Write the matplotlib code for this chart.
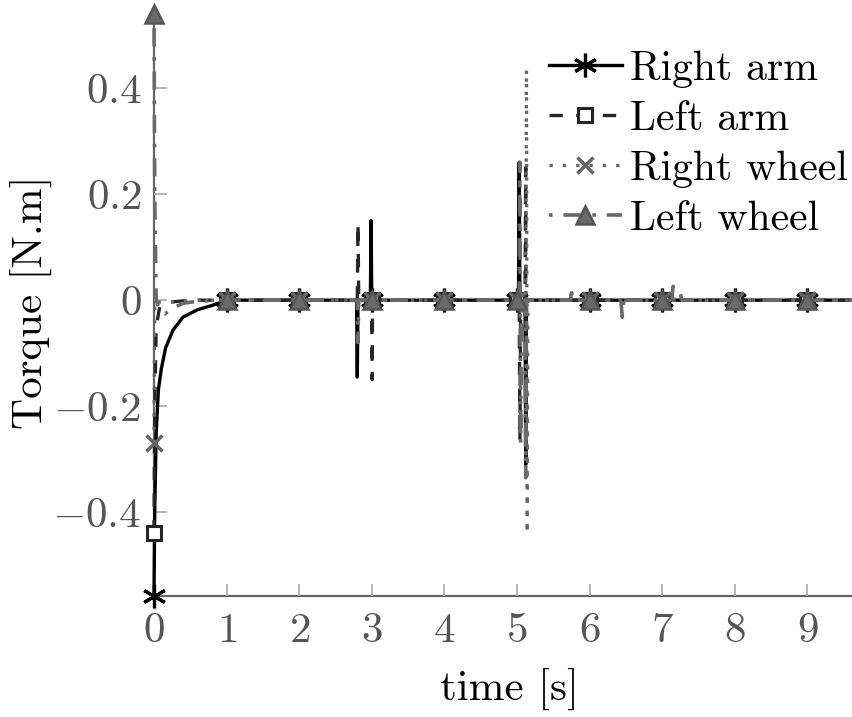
import numpy as np
import matplotlib
matplotlib.use("Agg")
import matplotlib.pyplot as plt

plt.rcParams['font.family'] = 'cmr10'
plt.rcParams['mathtext.fontset'] = 'cm'
plt.rcParams['axes.unicode_minus'] = False

# right arm (solid black, asterisk)
t_ra = [0, 0.01, 0.03, 0.06, 0.1, 0.16, 0.26, 0.4, 0.6, 0.8, 1, 2, 2.79, 2.80, 2.81,
        2.98, 2.99, 3, 4, 5, 5.02, 5.03, 5.04, 5.11, 5.12, 5.13, 6, 7, 8, 9, 9.7]
v_ra = [-0.558, -0.40, -0.25, -0.17, -0.13, -0.09, -0.057, -0.032, -0.018, -0.01, 0, 0, 0, -0.145, 0,
        0, 0.15, 0, 0, 0, 0, 0.26, 0, 0, -0.31, 0, 0, 0, 0, 0, 0]

# left arm (dashed, square)
t_la = [0, 0.01, 0.03, 0.08, 0.2, 0.5, 1, 2, 2.80, 2.81, 2.82, 2.995, 3, 3.005, 3.01,
        4, 5, 5.03, 5.04, 5.05, 5.11, 5.12, 5.125, 5.13, 6, 7, 8, 9, 9.7]
v_la = [-0.44, -0.2, -0.05, -0.012, -0.004, 0, 0, 0, 0, 0.145, 0, 0, 0, -0.15, 0,
        0, 0, 0, -0.265, 0, 0, 0.25, -0.30, 0, 0, 0, 0, 0, 0]

# right wheel (dotted, x)
t_rw = [0, 0.01, 0.05, 0.3, 0.6, 1, 2, 3, 4, 5, 5.12, 5.13, 5.14, 5.15, 6, 7, 8, 9, 9.7]
v_rw = [-0.27, 0.0, -0.004, -0.003, 0, 0, 0, 0, 0, 0, 0, 0.435, -0.44, 0, 0, 0, 0, 0, 0]

# left wheel (dash-dot, triangle)
t_lw = [0, 0.01, 0.03, 0.08, 0.15, 0.26, 0.4, 0.6, 1, 2,
        2.80, 2.81, 2.82, 3, 3.2, 3.22, 3.24,
        4, 5,
        5.03, 5.04, 5.05, 5.06, 5.11, 5.12, 5.13,
        5.74, 5.75, 5.76, 6,
        6.43, 6.45, 6.47, 6.48, 6.5,
        7, 7.13, 7.15, 7.17, 7.24, 7.25, 7.27,
        8, 9, 9.7]
v_lw = [0.54, 0.2, 0.0, -0.02, -0.026, -0.015, -0.006, -0.002, 0, 0,
        0, -0.08, 0, 0, 0, -0.008, 0,
        0, 0,
        0, 0.26, -0.27, 0, 0, -0.335, 0,
        0, 0.025, 0, 0,
        0, -0.032, 0, 0.01, 0,
        0, 0, 0.026, 0, 0, 0.012, 0,
        0, 0, 0]

xticks = [0, 1, 2, 3, 4, 5, 6, 7, 8, 9]
yticks = [-0.4, -0.2, 0, 0.2, 0.4]
yticklabels = [r'$-0.4$', r'$-0.2$', r'$0$', r'$0.2$', r'$0.4$']


def marks(t):
    return [i for i, x in enumerate(t) if float(x).is_integer() and x < 9.5]


fig = plt.figure(figsize=(8.52, 7.17), dpi=100)
ax = fig.add_axes([154 / 852, 121 / 717, 698 / 852, 588 / 717])

lw = 2.4
ax.plot(t_ra, v_ra, color='black', lw=lw, marker=(6, 2, 0), ms=17, mew=2.3,
        markevery=marks(t_ra), label='Right arm', zorder=3, clip_on=False)
ax.plot(t_la, v_la, color='#262626', lw=lw, ls=(0, (4, 4)), marker='s', ms=10, mew=2.2,
        mfc='white', mec='#262626', markevery=marks(t_la), label='Left arm', zorder=4,
        clip_on=False)
ax.plot(t_rw, v_rw, color='#666666', lw=lw, ls=(0, (1, 3)), marker='x', ms=11, mew=2.5,
        markevery=marks(t_rw), label='Right wheel', zorder=5, clip_on=False)
ax.plot(t_lw, v_lw, color='#6a6a6a', lw=2.6, ls=(0, (1, 3, 5, 3)), marker='^', ms=13, mew=1.8,
        mfc='#6a6a6a', mec='#555555', markevery=marks(t_lw), label='Left wheel', zorder=6,
        clip_on=False)

ax.set_xlim(0, 9.614)
ax.set_ylim(-0.558, 0.551)

for s in ['top', 'right']:
    ax.spines[s].set_visible(False)
for s in ['left', 'bottom']:
    ax.spines[s].set_color('#666666')
    ax.spines[s].set_linewidth(1.6)
    ax.spines[s].set_zorder(1)

ax.set_xticks(xticks)
ax.set_xticklabels([r'$%d$' % v for v in xticks])
ax.set_yticks(yticks)
ax.set_yticklabels(yticklabels)
ax.tick_params(direction='in', length=9, width=1.2, color='#aaaaaa',
               labelcolor='#555555', labelsize=31)
ax.tick_params(axis='x', pad=12)
ax.tick_params(axis='y', pad=9)

ax.set_xlabel('time [s]', fontsize=31)
ax.set_ylabel('Torque [N.m]', fontsize=31)
ax.xaxis.set_label_coords(0.51, -0.122)
ax.yaxis.set_label_coords(-0.146, 0.5)

leg = ax.legend(loc='upper right', bbox_to_anchor=(1.0, 0.935), frameon=False, fontsize=30,
                handlelength=1.75, handletextpad=0.2, labelspacing=0.3, borderaxespad=0,
                borderpad=0.1)

fig.savefig('out.png', dpi=100)
